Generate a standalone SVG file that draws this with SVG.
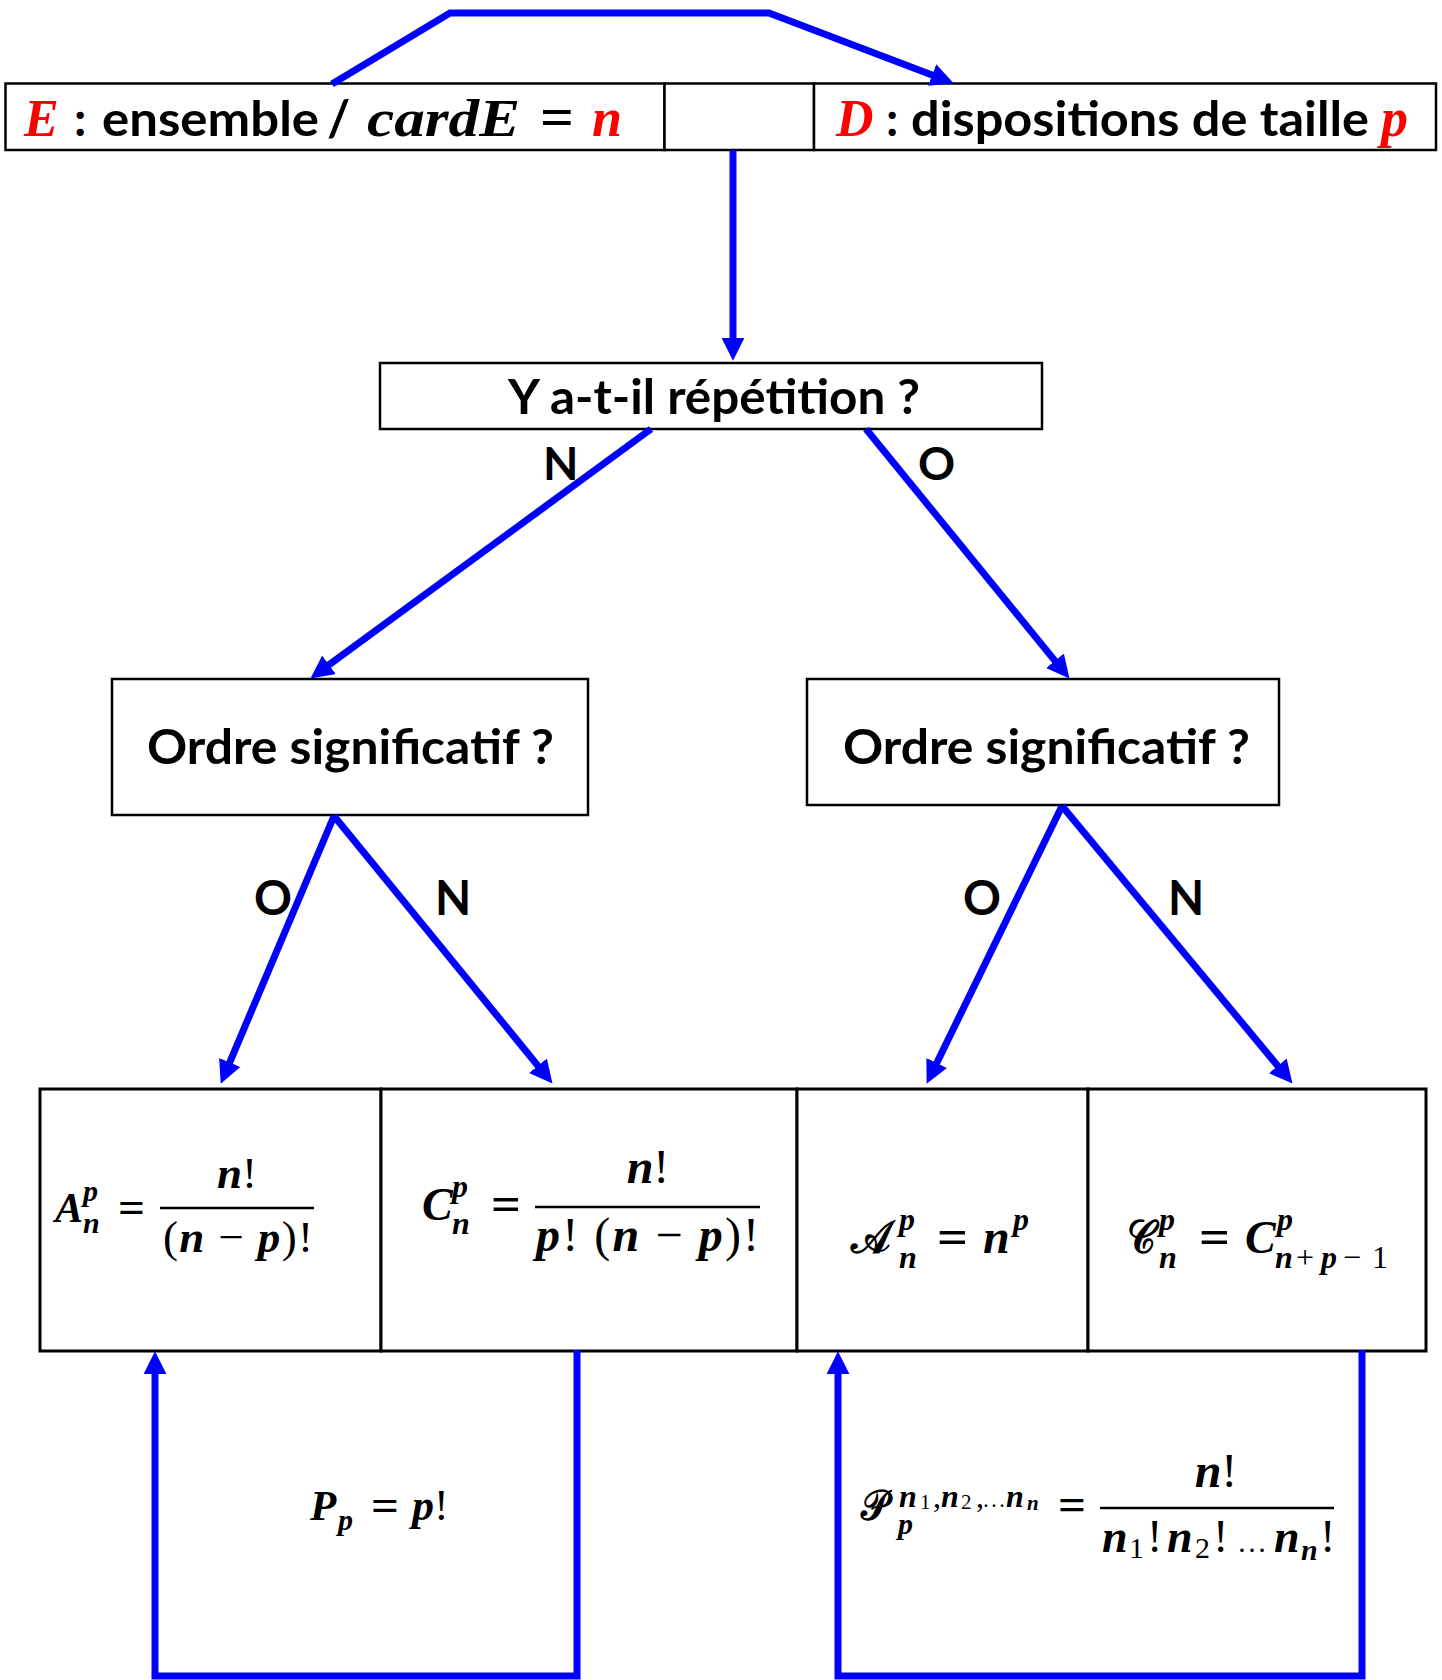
<svg xmlns="http://www.w3.org/2000/svg" width="1442" height="1680" viewBox="0 0 1442 1680">
<style>
.bg{fill:#fff}
.box{fill:#fff;stroke:#000;stroke-width:2.5}
.cell{fill:#fff;stroke:#000;stroke-width:3}
.bar{stroke:#000;stroke-width:2.5}
.sans{font-family:Lato,"Liberation Sans",sans-serif;font-weight:700;fill:#000}
.math{font-family:"Liberation Serif",serif;font-weight:700;font-style:italic;fill:#000}
.op{font-style:normal;font-weight:400}
.eq{font-style:normal;font-weight:700}
.scr{font-family:"DejaVu Serif","DejaVu Sans",serif;font-style:normal;font-weight:700}
.red{fill:#ff0000}
.conn{fill:none;stroke:#0000ff;stroke-width:7;stroke-linejoin:miter}
</style>
<defs>
<marker id="ah" viewBox="0 0 10 10" refX="3" refY="5" markerUnits="userSpaceOnUse" markerWidth="23" markerHeight="23" orient="auto">
<path d="M0,0 L10,5 L0,10 z" fill="#0000ff"/>
</marker>
</defs>
<rect class="bg" x="0" y="0" width="1442" height="1680"/>

<g id="node-E">
<rect class="box" x="5.5" y="83.5" width="659" height="66.5"/>
<text class="math red" x="24" y="136" font-size="52">E</text>
<text class="sans" x="74" y="136" font-size="48">:</text>
<text class="sans" x="102" y="136" font-size="48" textLength="217" lengthAdjust="spacingAndGlyphs">ensemble</text>
<text class="sans" x="327" y="136" font-size="50">/</text>
<text class="math" x="367" y="136" font-size="52" textLength="153" lengthAdjust="spacingAndGlyphs">cardE</text>
<text class="math eq" x="540" y="136" font-size="58" textLength="34" lengthAdjust="spacingAndGlyphs">=</text>
<text class="math red" x="592" y="136" font-size="54">n</text>
</g>
<g id="node-mid">
<rect class="box" x="664.5" y="83.5" width="149.5" height="66.5"/>
</g>
<g id="node-D">
<rect class="box" x="814" y="83.5" width="622" height="66.5"/>
<text class="math red" x="836" y="136" font-size="52">D</text>
<text class="sans" x="886" y="136" font-size="48">:</text>
<text class="sans" x="911" y="136" font-size="48" textLength="458" lengthAdjust="spacingAndGlyphs">dispositions de taille</text>
<text class="math red" x="1381" y="136" font-size="54">p</text>
</g>

<g id="node-repetition">
<rect class="box" x="380" y="363" width="662" height="66"/>
<text class="sans" x="508" y="414" font-size="48" textLength="412" lengthAdjust="spacingAndGlyphs">Y a-t-il répétition ?</text>
</g>

<g id="node-ordre-left">
<rect class="box" x="112" y="679" width="476" height="136"/>
<text class="sans" x="147" y="764" font-size="48" textLength="407" lengthAdjust="spacingAndGlyphs">Ordre significatif ?</text>
</g>
<g id="node-ordre-right">
<rect class="box" x="807" y="679" width="472" height="126"/>
<text class="sans" x="843" y="764" font-size="48" textLength="407" lengthAdjust="spacingAndGlyphs">Ordre significatif ?</text>
</g>

<g id="node-arrangement">
<rect class="cell" x="40" y="1089" width="341" height="262"/>
<text class="math" x="55" y="1222" font-size="42">A</text>
<text class="math" x="83" y="1201" font-size="30">p</text>
<text class="math" x="83" y="1233" font-size="30">n</text>
<text class="math eq" x="118" y="1222" font-size="44" textLength="27" lengthAdjust="spacingAndGlyphs">=</text>
<line class="bar" x1="160" y1="1208" x2="314" y2="1208"/>
<text class="math" x="237" y="1188" font-size="45" text-anchor="middle">n<tspan class="op">!</tspan></text>
<text class="math" x="163" y="1252" font-size="45" textLength="150" lengthAdjust="spacing"><tspan class="op">(</tspan>n <tspan class="op">−</tspan> p<tspan class="op">)!</tspan></text>
</g>

<g id="node-combinaison">
<rect class="cell" x="381" y="1089" width="416" height="262"/>
<text class="math" x="422" y="1220" font-size="46">C</text>
<text class="math" x="452" y="1197" font-size="32">p</text>
<text class="math" x="452" y="1234" font-size="32">n</text>
<text class="math eq" x="491" y="1220" font-size="48" textLength="30" lengthAdjust="spacingAndGlyphs">=</text>
<line class="bar" x1="535" y1="1207" x2="760" y2="1207"/>
<text class="math" x="648" y="1183" font-size="48" text-anchor="middle">n<tspan class="op">!</tspan></text>
<text class="math" x="536" y="1251" font-size="48" textLength="223" lengthAdjust="spacing">p<tspan class="op">! (</tspan>n <tspan class="op">−</tspan> p<tspan class="op">)!</tspan></text>
</g>

<g id="node-arrangement-rep">
<rect class="cell" x="797" y="1089" width="291" height="262"/>
<text class="math scr" x="851" y="1253" font-size="46" textLength="40" lengthAdjust="spacingAndGlyphs">𝒜</text>
<text class="math" x="899" y="1230" font-size="32">p</text>
<text class="math" x="899" y="1268" font-size="32">n</text>
<text class="math eq" x="937" y="1253" font-size="48" textLength="31" lengthAdjust="spacingAndGlyphs">=</text>
<text class="math" x="983" y="1253" font-size="48">n</text>
<text class="math" x="1013" y="1230" font-size="32">p</text>
</g>

<g id="node-combinaison-rep">
<rect class="cell" x="1088" y="1089" width="338" height="262"/>
<text class="math scr" x="1127" y="1253" font-size="46" textLength="29" lengthAdjust="spacingAndGlyphs">𝒞</text>
<text class="math" x="1159" y="1230" font-size="32">p</text>
<text class="math" x="1159" y="1268" font-size="32">n</text>
<text class="math eq" x="1199" y="1253" font-size="48" textLength="31" lengthAdjust="spacingAndGlyphs">=</text>
<text class="math" x="1245" y="1253" font-size="46">C</text>
<text class="math" x="1277" y="1230" font-size="32">p</text>
<text class="math" y="1268" font-size="32"><tspan x="1275">n</tspan><tspan class="op" x="1296">+</tspan><tspan x="1321">p</tspan><tspan class="op" x="1343">−</tspan><tspan class="op" x="1372">1</tspan></text>
</g>

<g id="node-permutation">
<text class="math" x="310" y="1520" font-size="43">P</text>
<text class="math" x="338" y="1530" font-size="30">p</text>
<text class="math eq" x="371" y="1520" font-size="44" textLength="28" lengthAdjust="spacingAndGlyphs">=</text>
<text class="math" x="412" y="1520" font-size="44">p<tspan class="op">!</tspan></text>
</g>

<g id="node-permutation-rep">
<text class="math scr" x="861" y="1520" font-size="42" textLength="27" lengthAdjust="spacingAndGlyphs">𝒫</text>
<text class="math" x="898" y="1534" font-size="30">p</text>
<text class="math" y="1507" font-size="32"><tspan x="899">n</tspan><tspan class="op" x="920" y="1509" font-size="21">1</tspan><tspan class="op" x="933" y="1507">,</tspan><tspan x="941">n</tspan><tspan class="op" x="961" y="1509" font-size="21">2</tspan><tspan class="op" x="976" y="1507">,</tspan><tspan class="op" x="982" font-size="24">…</tspan><tspan x="1006">n</tspan><tspan x="1027" y="1510" font-size="21">n</tspan></text>
<text class="math eq" x="1058" y="1520" font-size="46" textLength="28" lengthAdjust="spacingAndGlyphs">=</text>
<line class="bar" x1="1100" y1="1508" x2="1334" y2="1508"/>
<text class="math" x="1216" y="1487" font-size="48" text-anchor="middle">n<tspan class="op">!</tspan></text>
<text class="math" y="1552" font-size="46"><tspan x="1102">n</tspan><tspan class="op" x="1129" y="1558" font-size="30">1</tspan><tspan class="op" x="1147" y="1552">!</tspan><tspan x="1167">n</tspan><tspan class="op" x="1195" y="1558" font-size="30">2</tspan><tspan class="op" x="1213" y="1552">!</tspan><tspan class="op" x="1237" font-size="30">…</tspan><tspan x="1274">n</tspan><tspan x="1301" y="1560" font-size="30">n</tspan><tspan class="op" x="1320" y="1552">!</tspan></text>
</g>

<g id="labels">
<text class="sans" x="543" y="480" font-size="46">N</text>
<text class="sans" x="918" y="480" font-size="46">O</text>
<text class="sans" x="254" y="915" font-size="47">O</text>
<text class="sans" x="435" y="915" font-size="47">N</text>
<text class="sans" x="963" y="915" font-size="47">O</text>
<text class="sans" x="1168" y="915" font-size="47">N</text>
</g>

<g id="connectors">
<path class="conn" d="M332,84 L450,13 L769,13 L938.6,77.5" marker-end="url(#ah)"/>
<path class="conn" d="M733,150 V344.6" marker-end="url(#ah)"/>
<path class="conn" d="M651,429 L323.4,668.9" marker-end="url(#ah)"/>
<path class="conn" d="M866,429 L1059.3,666.1" marker-end="url(#ah)"/>
<path class="conn" d="M334,816 L227,1068.8" marker-end="url(#ah)"/>
<path class="conn" d="M334,816 L542.3,1071.1" marker-end="url(#ah)"/>
<path class="conn" d="M1062,806 L933.7,1069.2" marker-end="url(#ah)"/>
<path class="conn" d="M1062,806 L1282.2,1071.2" marker-end="url(#ah)"/>
<path class="conn" d="M577,1350 V1676 H155 V1367.4" marker-end="url(#ah)"/>
<path class="conn" d="M1362,1350 V1676 H838 V1367.4" marker-end="url(#ah)"/>
</g>
</svg>
